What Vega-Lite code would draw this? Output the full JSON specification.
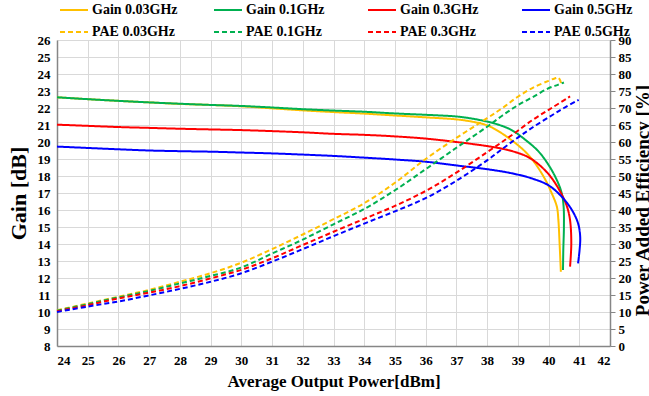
{
"$schema": "https://vega.github.io/schema/vega-lite/v6.json",
"width": 553, "height": 306,
"autosize": {"type": "none"},
"padding": {"left": 57, "top": 40, "right": 39, "bottom": 50},
"background": "white",
"config": {
 "view": {"stroke": null},
 "axis": {"labelFont": "Liberation Serif", "labelFontWeight": "bold", "labelFontSize": 13, "labelColor": "#000", "titleFont": "Liberation Serif", "titleFontWeight": "bold", "titleColor": "#000", "domainColor": "#868686", "domainWidth": 1.5, "gridColor": "#d9d9d9", "gridWidth": 1, "tickColor": "#868686"}
},
"datasets": {
 "gain": [
  {"s":"Gain 0.03GHz","x":24,"v":22.63},{"s":"Gain 0.03GHz","x":25,"v":22.52},{"s":"Gain 0.03GHz","x":26,"v":22.42},{"s":"Gain 0.03GHz","x":27,"v":22.33},{"s":"Gain 0.03GHz","x":28,"v":22.24},{"s":"Gain 0.03GHz","x":29,"v":22.18},{"s":"Gain 0.03GHz","x":30,"v":22.1},{"s":"Gain 0.03GHz","x":31,"v":21.98},{"s":"Gain 0.03GHz","x":32,"v":21.86},{"s":"Gain 0.03GHz","x":33,"v":21.76},{"s":"Gain 0.03GHz","x":34,"v":21.67},{"s":"Gain 0.03GHz","x":35,"v":21.56},{"s":"Gain 0.03GHz","x":36,"v":21.45},{"s":"Gain 0.03GHz","x":37,"v":21.33},{"s":"Gain 0.03GHz","x":37.5,"v":21.2},{"s":"Gain 0.03GHz","x":38,"v":20.98},{"s":"Gain 0.03GHz","x":38.4,"v":20.6},{"s":"Gain 0.03GHz","x":38.8,"v":20.1},{"s":"Gain 0.03GHz","x":39.23,"v":19.45},{"s":"Gain 0.03GHz","x":39.56,"v":18.75},{"s":"Gain 0.03GHz","x":39.89,"v":17.8},{"s":"Gain 0.03GHz","x":40.1,"v":17.0},{"s":"Gain 0.03GHz","x":40.27,"v":16.2},{"s":"Gain 0.03GHz","x":40.32,"v":15.4},{"s":"Gain 0.03GHz","x":40.36,"v":14.0},{"s":"Gain 0.03GHz","x":40.4,"v":12.37},
  {"s":"Gain 0.1GHz","x":24,"v":22.63},{"s":"Gain 0.1GHz","x":25,"v":22.52},{"s":"Gain 0.1GHz","x":26,"v":22.42},{"s":"Gain 0.1GHz","x":27,"v":22.33},{"s":"Gain 0.1GHz","x":28,"v":22.25},{"s":"Gain 0.1GHz","x":29,"v":22.18},{"s":"Gain 0.1GHz","x":30,"v":22.12},{"s":"Gain 0.1GHz","x":31,"v":22.03},{"s":"Gain 0.1GHz","x":32,"v":21.93},{"s":"Gain 0.1GHz","x":33,"v":21.85},{"s":"Gain 0.1GHz","x":34,"v":21.78},{"s":"Gain 0.1GHz","x":35,"v":21.68},{"s":"Gain 0.1GHz","x":36,"v":21.6},{"s":"Gain 0.1GHz","x":37,"v":21.5},{"s":"Gain 0.1GHz","x":37.5,"v":21.38},{"s":"Gain 0.1GHz","x":38,"v":21.2},{"s":"Gain 0.1GHz","x":38.4,"v":21.0},{"s":"Gain 0.1GHz","x":38.8,"v":20.7},{"s":"Gain 0.1GHz","x":39.23,"v":20.15},{"s":"Gain 0.1GHz","x":39.67,"v":19.45},{"s":"Gain 0.1GHz","x":40.0,"v":18.65},{"s":"Gain 0.1GHz","x":40.27,"v":17.76},{"s":"Gain 0.1GHz","x":40.43,"v":16.98},{"s":"Gain 0.1GHz","x":40.49,"v":16.2},{"s":"Gain 0.1GHz","x":40.5,"v":15.0},{"s":"Gain 0.1GHz","x":40.48,"v":13.65},{"s":"Gain 0.1GHz","x":40.47,"v":12.47},
  {"s":"Gain 0.3GHz","x":24,"v":21.02},{"s":"Gain 0.3GHz","x":25,"v":20.95},{"s":"Gain 0.3GHz","x":26,"v":20.88},{"s":"Gain 0.3GHz","x":27,"v":20.83},{"s":"Gain 0.3GHz","x":28,"v":20.78},{"s":"Gain 0.3GHz","x":29,"v":20.74},{"s":"Gain 0.3GHz","x":30,"v":20.7},{"s":"Gain 0.3GHz","x":31,"v":20.64},{"s":"Gain 0.3GHz","x":32,"v":20.57},{"s":"Gain 0.3GHz","x":33,"v":20.48},{"s":"Gain 0.3GHz","x":34,"v":20.42},{"s":"Gain 0.3GHz","x":35,"v":20.33},{"s":"Gain 0.3GHz","x":36,"v":20.2},{"s":"Gain 0.3GHz","x":37,"v":20.0},{"s":"Gain 0.3GHz","x":38,"v":19.76},{"s":"Gain 0.3GHz","x":38.5,"v":19.6},{"s":"Gain 0.3GHz","x":39,"v":19.36},{"s":"Gain 0.3GHz","x":39.35,"v":19.1},{"s":"Gain 0.3GHz","x":39.7,"v":18.65},{"s":"Gain 0.3GHz","x":40.05,"v":18.0},{"s":"Gain 0.3GHz","x":40.38,"v":17.08},{"s":"Gain 0.3GHz","x":40.6,"v":16.2},{"s":"Gain 0.3GHz","x":40.7,"v":15.4},{"s":"Gain 0.3GHz","x":40.74,"v":14.04},{"s":"Gain 0.3GHz","x":40.7,"v":12.67},
  {"s":"Gain 0.5GHz","x":24,"v":19.73},{"s":"Gain 0.5GHz","x":25,"v":19.65},{"s":"Gain 0.5GHz","x":26,"v":19.57},{"s":"Gain 0.5GHz","x":27,"v":19.5},{"s":"Gain 0.5GHz","x":28,"v":19.46},{"s":"Gain 0.5GHz","x":29,"v":19.43},{"s":"Gain 0.5GHz","x":30,"v":19.38},{"s":"Gain 0.5GHz","x":31,"v":19.33},{"s":"Gain 0.5GHz","x":32,"v":19.26},{"s":"Gain 0.5GHz","x":33,"v":19.18},{"s":"Gain 0.5GHz","x":34,"v":19.08},{"s":"Gain 0.5GHz","x":35,"v":18.97},{"s":"Gain 0.5GHz","x":36,"v":18.84},{"s":"Gain 0.5GHz","x":37,"v":18.62},{"s":"Gain 0.5GHz","x":38,"v":18.4},{"s":"Gain 0.5GHz","x":38.8,"v":18.16},{"s":"Gain 0.5GHz","x":39.45,"v":17.86},{"s":"Gain 0.5GHz","x":40.0,"v":17.45},{"s":"Gain 0.5GHz","x":40.43,"v":16.78},{"s":"Gain 0.5GHz","x":40.76,"v":16.0},{"s":"Gain 0.5GHz","x":40.96,"v":15.22},{"s":"Gain 0.5GHz","x":41.03,"v":14.43},{"s":"Gain 0.5GHz","x":41.01,"v":13.65},{"s":"Gain 0.5GHz","x":40.96,"v":12.86}
 ],
 "pae": [
  {"s":"PAE 0.03GHz","x":24,"v":10.5},{"s":"PAE 0.03GHz","x":25,"v":12.5},{"s":"PAE 0.03GHz","x":26,"v":14.5},{"s":"PAE 0.03GHz","x":27,"v":16.5},{"s":"PAE 0.03GHz","x":28,"v":18.9},{"s":"PAE 0.03GHz","x":29,"v":21.4},{"s":"PAE 0.03GHz","x":30,"v":24.5},{"s":"PAE 0.03GHz","x":31,"v":28.5},{"s":"PAE 0.03GHz","x":32,"v":32.8},{"s":"PAE 0.03GHz","x":33,"v":37.3},{"s":"PAE 0.03GHz","x":34,"v":42.0},{"s":"PAE 0.03GHz","x":35,"v":48.0},{"s":"PAE 0.03GHz","x":36,"v":55.0},{"s":"PAE 0.03GHz","x":37,"v":61.2},{"s":"PAE 0.03GHz","x":38,"v":67.0},{"s":"PAE 0.03GHz","x":38.5,"v":70.0},{"s":"PAE 0.03GHz","x":39,"v":73.3},{"s":"PAE 0.03GHz","x":39.5,"v":76.0},{"s":"PAE 0.03GHz","x":40,"v":78.0},{"s":"PAE 0.03GHz","x":40.2,"v":78.7},{"s":"PAE 0.03GHz","x":40.32,"v":78.9},{"s":"PAE 0.03GHz","x":40.41,"v":77.3},
  {"s":"PAE 0.1GHz","x":24,"v":10.4},{"s":"PAE 0.1GHz","x":25,"v":12.3},{"s":"PAE 0.1GHz","x":26,"v":14.3},{"s":"PAE 0.1GHz","x":27,"v":16.2},{"s":"PAE 0.1GHz","x":28,"v":18.4},{"s":"PAE 0.1GHz","x":29,"v":20.6},{"s":"PAE 0.1GHz","x":30,"v":23.1},{"s":"PAE 0.1GHz","x":31,"v":27.2},{"s":"PAE 0.1GHz","x":32,"v":31.3},{"s":"PAE 0.1GHz","x":33,"v":35.8},{"s":"PAE 0.1GHz","x":34,"v":40.3},{"s":"PAE 0.1GHz","x":35,"v":45.8},{"s":"PAE 0.1GHz","x":36,"v":52.0},{"s":"PAE 0.1GHz","x":37,"v":58.3},{"s":"PAE 0.1GHz","x":38,"v":64.5},{"s":"PAE 0.1GHz","x":38.5,"v":67.8},{"s":"PAE 0.1GHz","x":39,"v":70.8},{"s":"PAE 0.1GHz","x":39.5,"v":73.3},{"s":"PAE 0.1GHz","x":40,"v":75.8},{"s":"PAE 0.1GHz","x":40.3,"v":76.8},{"s":"PAE 0.1GHz","x":40.5,"v":77.5},
  {"s":"PAE 0.3GHz","x":24,"v":10.2},{"s":"PAE 0.3GHz","x":25,"v":12.0},{"s":"PAE 0.3GHz","x":26,"v":14.0},{"s":"PAE 0.3GHz","x":27,"v":15.7},{"s":"PAE 0.3GHz","x":28,"v":17.6},{"s":"PAE 0.3GHz","x":29,"v":19.9},{"s":"PAE 0.3GHz","x":30,"v":22.4},{"s":"PAE 0.3GHz","x":31,"v":25.8},{"s":"PAE 0.3GHz","x":32,"v":29.7},{"s":"PAE 0.3GHz","x":33,"v":33.6},{"s":"PAE 0.3GHz","x":34,"v":37.4},{"s":"PAE 0.3GHz","x":35,"v":41.2},{"s":"PAE 0.3GHz","x":36,"v":45.6},{"s":"PAE 0.3GHz","x":37,"v":51.0},{"s":"PAE 0.3GHz","x":38,"v":57.0},{"s":"PAE 0.3GHz","x":38.8,"v":62.0},{"s":"PAE 0.3GHz","x":39.5,"v":66.6},{"s":"PAE 0.3GHz","x":40.1,"v":70.0},{"s":"PAE 0.3GHz","x":40.7,"v":73.4},
  {"s":"PAE 0.5GHz","x":24,"v":10.0},{"s":"PAE 0.5GHz","x":25,"v":11.6},{"s":"PAE 0.5GHz","x":26,"v":13.1},{"s":"PAE 0.5GHz","x":27,"v":14.9},{"s":"PAE 0.5GHz","x":28,"v":16.8},{"s":"PAE 0.5GHz","x":29,"v":18.9},{"s":"PAE 0.5GHz","x":30,"v":21.4},{"s":"PAE 0.5GHz","x":31,"v":24.8},{"s":"PAE 0.5GHz","x":32,"v":28.5},{"s":"PAE 0.5GHz","x":33,"v":32.3},{"s":"PAE 0.5GHz","x":34,"v":36.0},{"s":"PAE 0.5GHz","x":35,"v":39.6},{"s":"PAE 0.5GHz","x":36,"v":43.5},{"s":"PAE 0.5GHz","x":37,"v":48.6},{"s":"PAE 0.5GHz","x":38,"v":54.6},{"s":"PAE 0.5GHz","x":38.5,"v":58.0},{"s":"PAE 0.5GHz","x":39,"v":61.3},{"s":"PAE 0.5GHz","x":39.5,"v":64.4},{"s":"PAE 0.5GHz","x":40.1,"v":67.8},{"s":"PAE 0.5GHz","x":40.5,"v":70.0},{"s":"PAE 0.5GHz","x":40.98,"v":72.4}
 ]
},
"layer": [
 {
  "data": {"name": "gain"},
  "mark": {"type": "line", "strokeWidth": 2, "interpolate": "catmull-rom"},
  "encoding": {
   "x": {"field": "x", "type": "quantitative", "scale": {"domain": [24, 42], "nice": false}, "axis": {"values": [24,25,26,27,28,29,30,31,32,33,34,35,36,37,38,39,40,41,42], "title": "Average Output Power[dBm]", "titleFontSize": 17, "labelPadding": 8, "ticks": false, "grid": true, "titlePadding": 6, "format": "d"}},
   "y": {"field": "v", "type": "quantitative", "scale": {"domain": [8, 26], "nice": false}, "axis": {"orient": "left", "values": [8,9,10,11,12,13,14,15,16,17,18,19,20,21,22,23,24,25,26], "title": "Gain [dB]", "titleFontSize": 22, "ticks": false, "labelPadding": 7, "grid": true, "titleAngle": 270, "titleX": -32, "titleY": 153, "titleAlign": "center", "titleBaseline": "alphabetic"}},
   "color": {"field": "s", "type": "nominal", "scale": {"domain": ["Gain 0.03GHz","Gain 0.1GHz","Gain 0.3GHz","Gain 0.5GHz","PAE 0.03GHz","PAE 0.1GHz","PAE 0.3GHz","PAE 0.5GHz"], "range": ["#FFC000","#00B050","#FF0000","#0000FF","#FFC000","#00B050","#FF0000","#0000FF"]},
     "legend": {"title": null, "orient": "none", "legendX": 2, "legendY": -45, "direction": "horizontal", "columns": 4, "gridAlign": "all", "columnPadding": 32, "rowPadding": -20, "symbolType": "stroke", "symbolSize": 784, "symbolStrokeWidth": 2, "labelFont": "Liberation Serif", "labelFontWeight": "bold", "labelFontSize": 14, "labelColor": "#000", "labelOffset": 3}},
   "strokeDash": {"field": "s", "type": "nominal", "scale": {"domain": ["Gain 0.03GHz","Gain 0.1GHz","Gain 0.3GHz","Gain 0.5GHz","PAE 0.03GHz","PAE 0.1GHz","PAE 0.3GHz","PAE 0.5GHz"], "range": [[1,0],[1,0],[1,0],[1,0],[5,3],[5,3],[5,3],[5,3]]},
     "legend": {"title": null, "orient": "none", "legendX": 2, "legendY": -45, "direction": "horizontal", "columns": 4, "gridAlign": "all", "columnPadding": 32, "rowPadding": -20, "symbolType": "stroke", "symbolSize": 784, "symbolStrokeWidth": 2, "labelFont": "Liberation Serif", "labelFontWeight": "bold", "labelFontSize": 14, "labelColor": "#000", "labelOffset": 3}},
   "order": {"value": null}
  }
 },
 {
  "data": {"name": "pae"},
  "mark": {"type": "line", "strokeWidth": 2, "interpolate": "catmull-rom"},
  "encoding": {
   "x": {"field": "x", "type": "quantitative", "scale": {"domain": [24, 42], "nice": false}, "axis": {"values": [24,25,26,27,28,29,30,31,32,33,34,35,36,37,38,39,40,41,42], "title": "Average Output Power[dBm]", "titleFontSize": 17, "labelPadding": 8, "ticks": false, "grid": true, "titlePadding": 6, "format": "d"}},
   "y": {"field": "v", "type": "quantitative", "scale": {"domain": [0, 90], "nice": false}, "axis": {"orient": "right", "values": [0,5,10,15,20,25,30,35,40,45,50,55,60,65,70,75,80,85,90], "title": "Power Added Efficiency [%]", "titleFontSize": 19, "ticks": true, "tickSize": 5, "labelPadding": 3, "grid": false, "titleAngle": 270, "titleX": 38, "titleY": 160, "titleAlign": "center", "titleBaseline": "alphabetic"}},
   "color": {"field": "s", "type": "nominal", "scale": {"domain": ["Gain 0.03GHz","Gain 0.1GHz","Gain 0.3GHz","Gain 0.5GHz","PAE 0.03GHz","PAE 0.1GHz","PAE 0.3GHz","PAE 0.5GHz"], "range": ["#FFC000","#00B050","#FF0000","#0000FF","#FFC000","#00B050","#FF0000","#0000FF"]},
     "legend": {"title": null, "orient": "none", "legendX": 2, "legendY": -45, "direction": "horizontal", "columns": 4, "gridAlign": "all", "columnPadding": 32, "rowPadding": -20, "symbolType": "stroke", "symbolSize": 784, "symbolStrokeWidth": 2, "labelFont": "Liberation Serif", "labelFontWeight": "bold", "labelFontSize": 14, "labelColor": "#000", "labelOffset": 3}},
   "strokeDash": {"field": "s", "type": "nominal", "scale": {"domain": ["Gain 0.03GHz","Gain 0.1GHz","Gain 0.3GHz","Gain 0.5GHz","PAE 0.03GHz","PAE 0.1GHz","PAE 0.3GHz","PAE 0.5GHz"], "range": [[1,0],[1,0],[1,0],[1,0],[5,3],[5,3],[5,3],[5,3]]},
     "legend": {"title": null, "orient": "none", "legendX": 2, "legendY": -45, "direction": "horizontal", "columns": 4, "gridAlign": "all", "columnPadding": 32, "rowPadding": -20, "symbolType": "stroke", "symbolSize": 784, "symbolStrokeWidth": 2, "labelFont": "Liberation Serif", "labelFontWeight": "bold", "labelFontSize": 14, "labelColor": "#000", "labelOffset": 3}},
   "order": {"value": null}
  }
 }
],
"resolve": {"scale": {"y": "independent"}, "axis": {"y": "independent"}}
}
